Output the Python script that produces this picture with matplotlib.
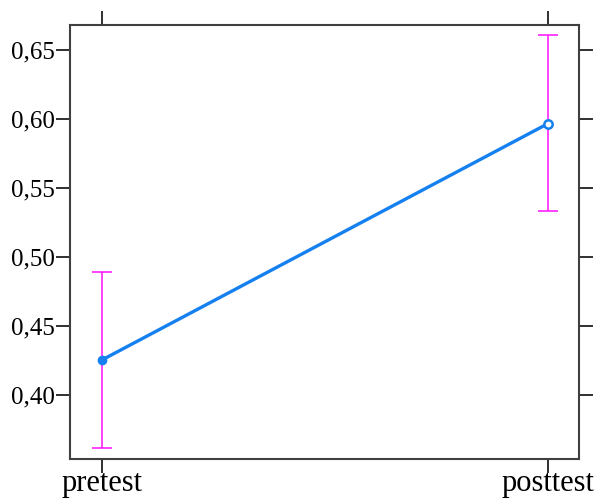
import numpy as np
import matplotlib.pyplot as plt

# data
fases = ["pretest", "posttest"]
medias = [0.4254, 0.5965]
erro_inf = [0.3616, 0.5335]
erro_sup = [0.4890, 0.6610]
yticks = [0.40, 0.45, 0.50, 0.55, 0.60, 0.65]

plt.rcParams['font.family'] = ['Liberation Serif', 'DejaVu Serif']

fig = plt.figure(figsize=(6.12, 4.98), dpi=100)
ax = fig.add_axes([70/612, 1 - 459/498, 509/612, 434/498])

x = np.arange(len(fases))
m = np.array(medias)
yerr = [m - np.array(erro_inf), np.array(erro_sup) - m]

ax.errorbar(x, m, yerr=yerr, fmt='none', ecolor='#FF22FF', elinewidth=1.2,
            capsize=7, capthick=1.2, zorder=2)
ax.plot(x, m, color='#1580F0', lw=2.4, zorder=3)
ax.plot(x[0], m[0], 'o', color='#1580F0', ms=6, zorder=4)
ax.plot(x[1], m[1], 'o', mfc='white', mec='#1580F0', mew=1.8, ms=6, zorder=4)

ax.set_xlim(-0.072, 1.07)
ax.set_ylim(0.3536, 0.668)
ax.set_xticks(x)
ax.set_xticklabels(fases)
ax.set_yticks(yticks)
ax.set_yticklabels([f"{v:.2f}".replace('.', ',') for v in yticks])

for s in ax.spines.values():
    s.set_color('#404040')
    s.set_linewidth(1.5)
ax.tick_params(axis='both', direction='out', length=10, width=1.3, color='#202020',
               labelsize=18, pad=1)
ax.tick_params(axis='y', right=True, labelright=False)
ax.tick_params(axis='x', top=True, labeltop=False, pad=-3)
ax.tick_params(axis='x', labelsize=22)

fig.savefig("out.png", dpi=100)
